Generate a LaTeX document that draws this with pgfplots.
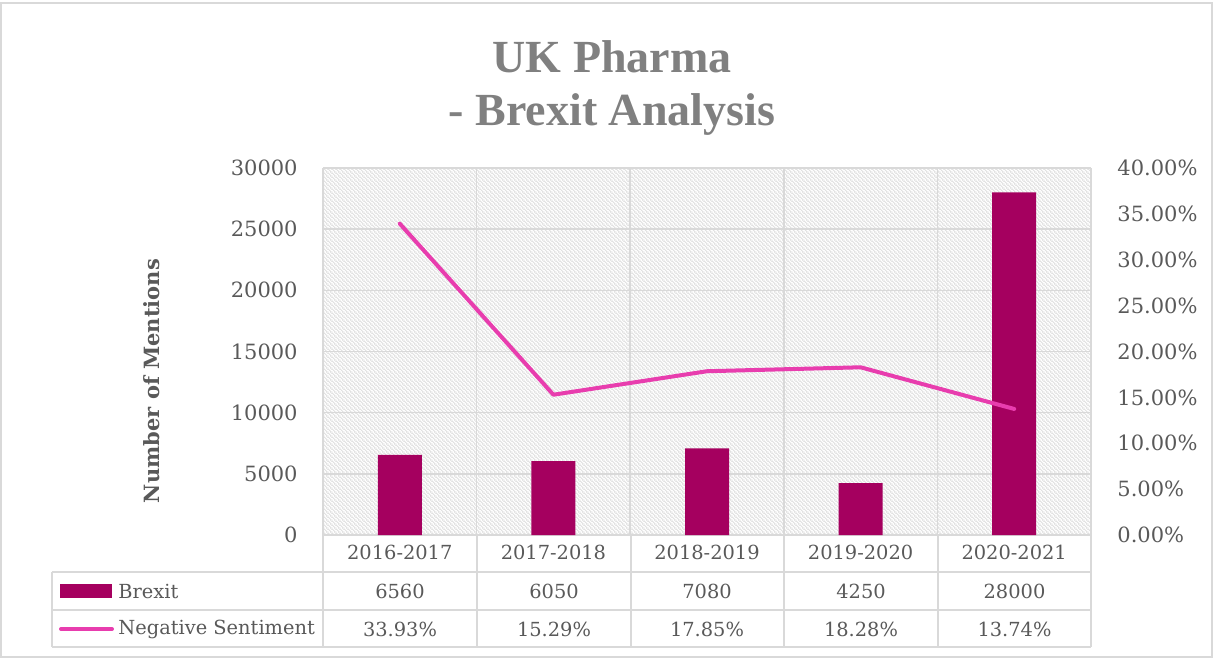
\documentclass[border=0pt]{standalone}
\usepackage{pgfplots}
\pgfplotsset{compat=1.18}
\usepackage{fontspec}
\setmainfont{DejaVu Serif}
\newfontfamily\titlefont{Liberation Serif}
\usetikzlibrary{patterns.meta}
\definecolor{barc}{HTML}{A5005F}
\definecolor{linec}{HTML}{E83DAE}
\definecolor{gridc}{HTML}{D9D9D9}
\definecolor{txt}{HTML}{595959}
\definecolor{titc}{HTML}{808080}
\tikzdeclarepattern{
  name=hatchnw,
  type=uncolored,
  bounding box={(0,0) and (2pt,2pt)},
  tile size={(2pt,2pt)},
  code={
    \draw[line width=0.5pt] (-0.5pt,2.5pt) -- (2.5pt,-0.5pt);
    \draw[line width=0.5pt] (-0.5pt,0.5pt) -- (0.5pt,-0.5pt);
    \draw[line width=0.5pt] (1.5pt,2.5pt) -- (2.5pt,1.5pt);
  }
}
\begin{document}
\begin{tikzpicture}
\begin{scope}[x=0.5pt,y=-0.5pt]
  \path (0,0) rectangle (1214,659);
  \draw[gridc, line width=0.6pt] (1,3) rectangle (1212,657);
  % title
  \node[anchor=base, text=titc, font=\titlefont\bfseries\fontsize{23}{27}\selectfont, inner sep=0pt] at (612,72) {UK Pharma};
  \node[anchor=base, text=titc, font=\titlefont\bfseries\fontsize{23}{27}\selectfont, inner sep=0pt] at (612,125) {- Brexit Analysis};
  % y label
  \node[rotate=90, text=txt, font=\bfseries\fontsize{10.5}{12}\selectfont] at (152,381) {Number of Mentions};
\end{scope}

\begin{axis}[
  at={(161.5pt,-267.5pt)}, anchor=south west,
  width=384pt, height=183.5pt, scale only axis,
  xmin=-0.5, xmax=4.5, ymin=0, ymax=30000,
  scaled y ticks=false,
  axis background/.style={pattern=hatchnw, pattern color=black!13},
  axis line style={draw=gridc, line width=0.75pt},
  xtick={0,1,2,3,4},
  xticklabels={2016-2017,2017-2018,2018-2019,2019-2020,2020-2021},
  minor xtick={-0.5,0.5,1.5,2.5,3.5,4.5},
  xminorgrids, minor grid style={draw=gridc, line width=0.75pt},
  ytick={0,5000,10000,15000,20000,25000,30000},
  yticklabels={0,5000,10000,15000,20000,25000,30000},
  ymajorgrids, major grid style={draw=gridc, line width=0.75pt},
  major tick length=0pt, minor tick length=0pt,
  axis y line*=left, axis x line*=bottom,
  xticklabel style={anchor=center, yshift=-8.5pt, text=txt, font=\fontsize{9.7}{11}\selectfont},
  yticklabel style={inner sep=0pt, xshift=-12.5pt, text=txt, font=\fontsize{10.5}{12}\selectfont},
  ybar, bar width=22pt,
]
\addplot[fill=barc, draw=none] coordinates {(0,6560) (1,6050) (2,7080) (3,4250) (4,28000)};
\end{axis}

\begin{axis}[
  at={(161.5pt,-267.5pt)}, anchor=south west,
  width=384pt, height=183.5pt, scale only axis,
  xmin=-0.5, xmax=4.5, ymin=0, ymax=40,
  axis y line*=right, axis x line=none,
  axis line style={draw=none},
  ytick={0,5,10,15,20,25,30,35,40},
  yticklabels={0.00\%,5.00\%,10.00\%,15.00\%,20.00\%,25.00\%,30.00\%,35.00\%,40.00\%},
  major tick length=0pt,
  yticklabel style={inner sep=0pt, xshift=13pt, text=txt, font=\fontsize{10.5}{12}\selectfont},
]
\addplot[linec, line width=2pt, line join=round, line cap=round] coordinates {(0,33.93) (1,15.29) (2,17.85) (3,18.28) (4,13.74)};
\end{axis}

\begin{scope}[x=0.5pt,y=-0.5pt]
  % table grid
  \begin{scope}[gridc, line width=0.75pt]
    \foreach \yy in {572,610,647} \draw (52,\yy) -- (1091,\yy);
    \draw (52,572) -- (52,647);
    \foreach \xx in {323,477,631,784,938,1091} \draw (\xx,535) -- (\xx,647);
  \end{scope}
  \fill[barc] (60,584) rectangle (112,598);
  \draw[linec, line width=2pt, line cap=round] (61,629) -- (112,629);
  \begin{scope}[every node/.style={text=txt, font=\fontsize{9.7}{11}\selectfont}]
    \node[anchor=west, inner sep=0pt] at (118,591) {Brexit};
    \node[anchor=west, inner sep=0pt] at (118,629) {Negative Sentiment};
    \node at (400,591) {6560};
    \node at (554,591) {6050};
    \node at (707,591) {7080};
    \node at (861,591) {4250};
    \node at (1014.5,591) {28000};
    \node at (400,629) {33.93\%};
    \node at (554,629) {15.29\%};
    \node at (707,629) {17.85\%};
    \node at (861,629) {18.28\%};
    \node at (1014.5,629) {13.74\%};
  \end{scope}
\end{scope}
\end{tikzpicture}
\end{document}
